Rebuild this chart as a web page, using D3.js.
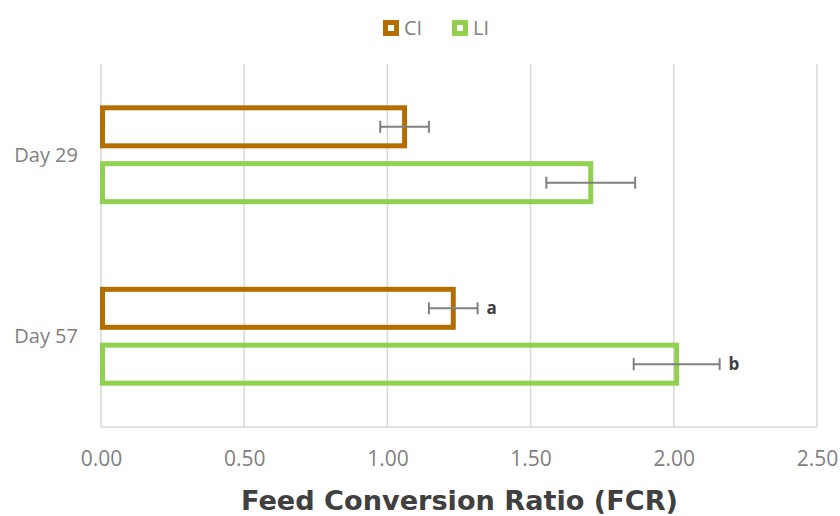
<!DOCTYPE html>
<html>
<head>
<meta charset="utf-8">
<script src="https://cdn.jsdelivr.net/npm/d3@7"></script>
<style>
  body { margin: 0; background: #fff; }
  svg { display: block; }
</style>
</head>
<body>
<svg id="chart"></svg>
<script>
// categories and series
const days = ["Day 29", "Day 57"];
const groups = ["CI", "LI"];
const ciValues = [1.06, 1.23];
const ciErrors = [0.085, 0.085];
const liValues = [1.71, 2.01];
const liErrors = [0.155, 0.15];
const ciSig = ["", "a"];
const liSig = ["", "b"];
const xTicks = [0, 0.5, 1, 1.5, 2, 2.5];

const width = 840, height = 516;
const marginTop = 64, marginBottom = 89, marginLeft = 101, marginRight = 23;
const colors = { CI: "#b46e00", LI: "#92d050" };

const data = [];
days.forEach((d, i) => {
  data.push({ day: d, group: "CI", value: ciValues[i], err: ciErrors[i], sig: ciSig[i] });
  data.push({ day: d, group: "LI", value: liValues[i], err: liErrors[i], sig: liSig[i] });
});

const svg = d3.select("#chart")
  .attr("width", width)
  .attr("height", height)
  .attr("viewBox", [0, 0, width, height]);

const x = d3.scaleLinear()
  .domain([0, 2.5])
  .range([marginLeft, width - marginRight]);

const y0 = d3.scaleBand()
  .domain(days)
  .range([marginTop, height - marginBottom])
  .padding(0);

const y1 = d3.scaleBand()
  .domain(groups)
  .range([0, y0.bandwidth()])
  .paddingInner(0.23)
  .paddingOuter(0.74);

// gridlines
svg.append("g")
  .selectAll("line")
  .data(xTicks)
  .join("line")
  .attr("x1", d => x(d))
  .attr("x2", d => x(d))
  .attr("y1", marginTop)
  .attr("y2", height - marginBottom)
  .attr("stroke", "#d9d9d9")
  .attr("stroke-width", 1.5);

svg.append("line")
  .attr("x1", x(0))
  .attr("x2", x(2.5))
  .attr("y1", height - marginBottom)
  .attr("y2", height - marginBottom)
  .attr("stroke", "#d9d9d9")
  .attr("stroke-width", 1.5);

// x axis tick labels
svg.append("g")
  .attr("transform", `translate(0,${height - marginBottom})`)
  .call(d3.axisBottom(x).tickValues(xTicks).tickFormat(d3.format(".2f")).tickSize(0).tickPadding(24))
  .call(g => g.select(".domain").remove())
  .call(g => g.selectAll("text")
    .attr("fill", "#7f7f7f")
    .attr("font-family", "'Open Sans', sans-serif")
    .attr("font-size", 21));

// category labels
svg.append("g")
  .selectAll("text")
  .data(days)
  .join("text")
  .attr("x", 78)
  .attr("y", d => y0(d) + y0.bandwidth() / 2)
  .attr("dy", "0.35em")
  .attr("text-anchor", "end")
  .attr("fill", "#7f7f7f")
  .attr("font-family", "'Open Sans', sans-serif")
  .attr("font-size", 20)
  .text(d => d);

// bars
const sw = 5;
svg.append("g")
  .selectAll("rect")
  .data(data)
  .join("rect")
  .attr("x", x(0) + 1.5)
  .attr("y", d => y0(d.day) + y1(d.group) + sw / 2)
  .attr("width", d => x(d.value) - x(0) - 1.5)
  .attr("height", y1.bandwidth() - sw)
  .attr("fill", "none")
  .attr("stroke", d => colors[d.group])
  .attr("stroke-width", sw);

// error bars
const eb = svg.append("g")
  .attr("stroke", "#808080")
  .attr("stroke-width", 2);
data.forEach(d => {
  const cy = y0(d.day) + y1(d.group) + y1.bandwidth() / 2;
  eb.append("line")
    .attr("x1", x(d.value - d.err)).attr("x2", x(d.value + d.err))
    .attr("y1", cy).attr("y2", cy);
  [d.value - d.err, d.value + d.err].forEach(v => {
    eb.append("line")
      .attr("x1", x(v)).attr("x2", x(v))
      .attr("y1", cy - 6).attr("y2", cy + 6);
  });
});

// significance letters
svg.append("g")
  .selectAll("text")
  .data(data.filter(d => d.sig))
  .join("text")
  .attr("x", d => x(d.value + d.err) + 9)
  .attr("y", d => y0(d.day) + y1(d.group) + y1.bandwidth() / 2)
  .attr("dy", "0.35em")
  .attr("fill", "#404040")
  .attr("font-family", "'Open Sans', sans-serif")
  .attr("font-weight", "bold")
  .attr("font-size", 17)
  .text(d => d.sig);

// legend
const legend = svg.append("g")
  .attr("transform", "translate(383,20)");
const lg = legend.selectAll("g")
  .data(groups)
  .join("g")
  .attr("transform", (d, i) => `translate(${i * 69},0)`);
lg.append("rect")
  .attr("x", 2.5).attr("y", 2.5)
  .attr("width", 11).attr("height", 11)
  .attr("fill", "none")
  .attr("stroke", d => colors[d])
  .attr("stroke-width", 5);
lg.append("text")
  .attr("x", 21)
  .attr("y", 8)
  .attr("dy", "0.35em")
  .attr("fill", "#7f7f7f")
  .attr("font-family", "'Open Sans', sans-serif")
  .attr("font-size", 20)
  .text(d => d);

// axis title
svg.append("text")
  .attr("x", 241)
  .attr("y", 510)
  .attr("textLength", 437)
  .attr("lengthAdjust", "spacingAndGlyphs")
  .attr("fill", "#404040")
  .attr("font-family", "'DejaVu Sans', sans-serif")
  .attr("font-weight", "bold")
  .attr("font-size", 27)
  .text("Feed Conversion Ratio (FCR)");
</script>
</body>
</html>
